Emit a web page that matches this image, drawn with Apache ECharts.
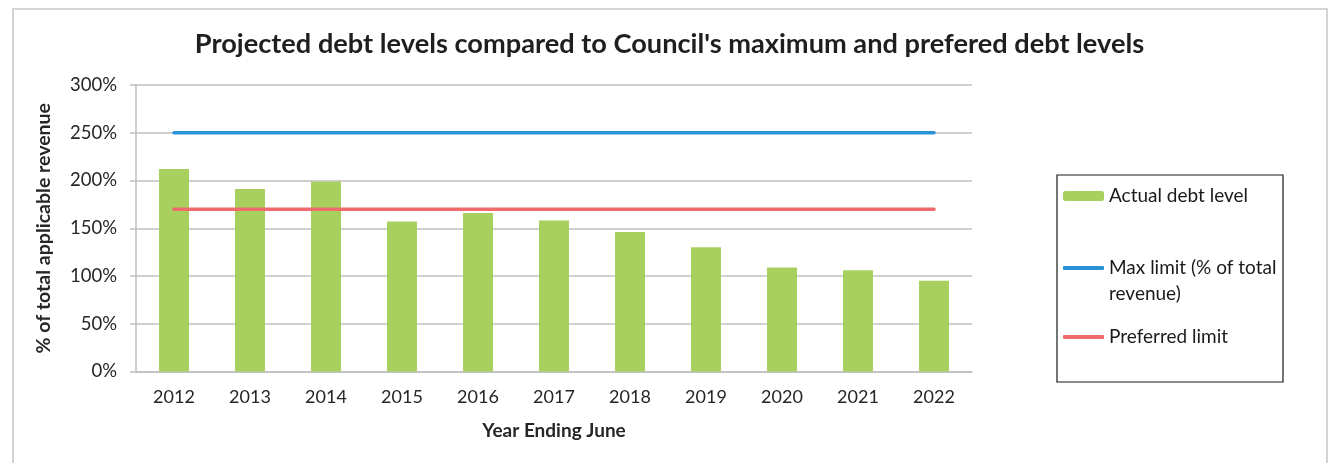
<!DOCTYPE html>
<html>
<head>
<meta charset="utf-8">
<script src="https://cdn.jsdelivr.net/npm/echarts@6/dist/echarts.min.js"></script>
<style>
  html, body { margin: 0; padding: 0; background: #fff; }
  #chart { width: 1339px; height: 463px; }
</style>
</head>
<body>
<div id="chart"></div>
<script>
// Financial years shown on the category axis
const years = ['2012', '2013', '2014', '2015', '2016', '2017', '2018', '2019', '2020', '2021', '2022'];
// Projected debt as % of total applicable revenue
const actualDebt = [212, 191, 199, 157, 166, 158, 146, 130, 109, 106, 95];
// Council policy limits (% of revenue)
const maxLimit = [250, 250, 250, 250, 250, 250, 250, 250, 250, 250, 250];
const preferredLimit = [170, 170, 170, 170, 170, 170, 170, 170, 170, 170, 170];
// Value axis ticks
const yTicks = { min: 0, max: 300, interval: 50 };

const FONT = 'Lato';
const TEXT = '#262626';
const GRID = '#bfbfbf';

const chart = echarts.init(document.getElementById('chart'), null, { renderer: 'canvas' });

const legendBase = {
  orient: 'vertical',
  left: 1063,
  padding: 0,
  itemWidth: 41,
  itemHeight: 10,
  selectedMode: false,
  textStyle: { fontFamily: FONT, fontSize: 19, color: '#1a1a1a', lineHeight: 26 }
};

// plain stroke-shaped key for the two limit lines
const lineKey = { itemHeight: 4, icon: 'roundRect' };

chart.setOption({
  animation: false,
  backgroundColor: '#fff',
  title: {
    text: "Projected debt levels compared to Council's maximum and prefered debt levels",
    left: 'center',
    top: 26,
    textStyle: { fontFamily: FONT, fontSize: 27.2, fontWeight: 'bold', color: '#1f1f1f' }
  },
  graphic: [
    {
      type: 'rect',
      shape: { x: 13, y: 9, width: 1314, height: 470 },
      style: { fill: 'none', stroke: '#c6c6c6', lineWidth: 1.5 },
      silent: true
    },
    {
      type: 'rect',
      shape: { x: 1057, y: 175, width: 226, height: 207 },
      style: { fill: 'none', stroke: '#1a1a1a', lineWidth: 1.2 },
      silent: true
    }
  ],
  legend: [
    Object.assign({}, legendBase, { top: 183, data: ['Actual debt level'] }),
    Object.assign({}, legendBase, lineKey, {
      top: 229,
      data: ['Max limit (% of total revenue)'],
      formatter: () => ' \nMax limit (% of total\nrevenue)'
    }),
    Object.assign({}, legendBase, lineKey, { top: 324, data: ['Preferred limit'] })
  ],
  grid: { left: 136, right: 367, top: 85, bottom: 91.5, containLabel: false },
  xAxis: {
    type: 'category',
    data: years,
    boundaryGap: true,
    name: 'Year Ending June',
    nameLocation: 'middle',
    nameGap: 50,
    nameTextStyle: { fontFamily: FONT, fontSize: 19, fontWeight: 'bold', color: TEXT },
    axisLine: { lineStyle: { color: GRID, width: 1.5 } },
    axisTick: { show: false },
    axisLabel: { fontFamily: FONT, fontSize: 18, color: TEXT, margin: 17 }
  },
  yAxis: {
    type: 'value',
    min: yTicks.min,
    max: yTicks.max,
    interval: yTicks.interval,
    name: '% of total applicable revenue',
    nameLocation: 'middle',
    nameGap: 82,
    nameRotate: 90,
    nameTextStyle: { fontFamily: FONT, fontSize: 19.5, fontWeight: 'bold', color: TEXT },
    axisLine: { show: true, lineStyle: { color: GRID, width: 1.5 } },
    axisTick: { show: true, length: 6, lineStyle: { color: GRID, width: 1.5 } },
    axisLabel: { fontFamily: FONT, fontSize: 18.5, color: TEXT, margin: 19, formatter: '{value}%' },
    splitLine: { lineStyle: { color: GRID, width: 1.5 } }
  },
  series: [
    {
      name: 'Actual debt level',
      type: 'bar',
      data: actualDebt,
      barWidth: 30,
      itemStyle: { color: '#a8d05e' },
      z: 2
    },
    {
      name: 'Max limit (% of total revenue)',
      type: 'line',
      data: maxLimit,
      symbol: 'none',
      itemStyle: { color: '#2a93d6' },
      lineStyle: { color: '#2a93d6', width: 3.5, cap: 'round' },
      z: 3
    },
    {
      name: 'Preferred limit',
      type: 'line',
      data: preferredLimit,
      symbol: 'none',
      itemStyle: { color: '#ee6b6b' },
      lineStyle: { color: '#ee6b6b', width: 3.5, cap: 'round' },
      z: 3
    }
  ]
});
</script>
</body>
</html>
